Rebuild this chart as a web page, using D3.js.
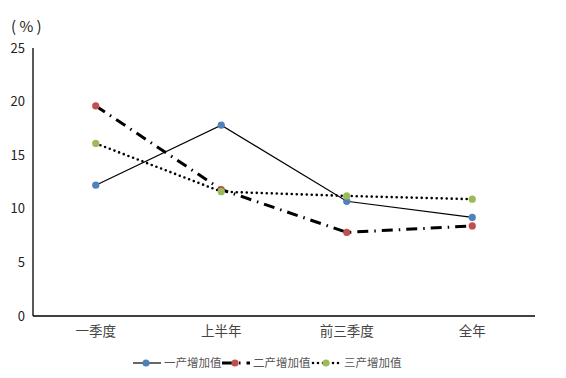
<!DOCTYPE html>
<html>
<head>
<meta charset="utf-8">
<script src="https://cdn.jsdelivr.net/npm/d3@7"></script>
<style>
  body { margin: 0; background: #fff; }
  text { font-family: "Noto Sans CJK SC", "DejaVu Sans", sans-serif; }
</style>
</head>
<body>
<div id="chart"></div>
<script>
const categories = ["一季度", "上半年", "前三季度", "全年"];
const primary = [12.2, 17.8, 10.7, 9.2];
const secondary = [19.6, 11.8, 7.8, 8.4];
const tertiary = [16.1, 11.6, 11.2, 10.9];
const yTicks = [0, 5, 10, 15, 20, 25];

const series = [
  {name: "一产增加值", values: primary, color: "#4f81bd", width: 1.2, dash: null, cap: "butt"},
  {name: "二产增加值", values: secondary, color: "#c0504d", width: 3, dash: "11,6,1.5,6", cap: "butt"},
  {name: "三产增加值", values: tertiary, color: "#9bbb59", width: 2.6, dash: "0,5", cap: "round"}
];

const W = 566, H = 378;
const margin = {top: 48, right: 31, bottom: 62, left: 33};
const width = W - margin.left - margin.right;
const height = H - margin.top - margin.bottom;

const svg = d3.select("#chart").append("svg")
  .attr("width", W)
  .attr("height", H);

const chart = svg.append("g")
  .attr("transform", `translate(${margin.left},${margin.top})`);

const x = d3.scaleBand()
  .domain(categories)
  .range([0, width]);

const y = d3.scaleLinear()
  .domain([0, 25])
  .range([height, 0]);

// axes
chart.append("line")
  .attr("x1", 0).attr("x2", 0)
  .attr("y1", 0).attr("y2", height)
  .attr("stroke", "#000").attr("stroke-width", 1.3);
chart.append("line")
  .attr("x1", 0).attr("x2", width)
  .attr("y1", height).attr("y2", height)
  .attr("stroke", "#000").attr("stroke-width", 1.3);

chart.selectAll(".ytick")
  .data(yTicks)
  .join("text")
  .attr("class", "ytick")
  .attr("x", -8)
  .attr("y", d => y(d))
  .attr("dy", "0.35em")
  .attr("text-anchor", "end")
  .style("font-size", "13px")
  .attr("fill", "#222")
  .text(d => d);

chart.selectAll(".xtick")
  .data(categories)
  .join("text")
  .attr("class", "xtick")
  .attr("x", d => x(d) + x.bandwidth() / 2)
  .attr("y", height + 20)
  .attr("text-anchor", "middle")
  .style("font-size", "13.5px")
  .attr("fill", "#444")
  .text(d => d);

svg.append("text")
  .attr("x", 11)
  .attr("y", 32)
  .style("font-size", "15px")
  .style("white-space", "pre")
  .attr("fill", "#222")
  .text("( % )");

const line = d3.line()
  .x((d, i) => x(categories[i]) + x.bandwidth() / 2)
  .y(d => y(d));

series.forEach(s => {
  chart.append("path")
    .datum(s.values)
    .attr("d", line)
    .attr("fill", "none")
    .attr("stroke", "#000")
    .attr("stroke-width", s.width)
    .attr("stroke-dasharray", s.dash)
    .attr("stroke-linecap", s.cap);
});

series.forEach(s => {
  chart.selectAll(null)
    .data(s.values)
    .join("circle")
    .attr("cx", (d, i) => x(categories[i]) + x.bandwidth() / 2)
    .attr("cy", d => y(d))
    .attr("r", 3.6)
    .attr("fill", s.color);
});

// legend
const legendX = [133, 222, 313];
const legend = svg.append("g").attr("transform", "translate(0,363)");
series.forEach((s, i) => {
  const g = legend.append("g").attr("transform", `translate(${legendX[i]},0)`);
  g.append("line")
    .attr("x1", 0).attr("x2", 28)
    .attr("y1", 0).attr("y2", 0)
    .attr("stroke", "#000")
    .attr("stroke-width", s.width)
    .attr("stroke-dasharray", s.dash)
    .attr("stroke-linecap", s.cap);
  g.append("circle")
    .attr("cx", 13).attr("cy", 0).attr("r", 3.6)
    .attr("fill", s.color);
  g.append("text")
    .attr("x", 31)
    .attr("y", 0)
    .attr("dy", "0.35em")
    .style("font-size", "11.5px")
    .attr("fill", "#555")
    .text(s.name);
});
</script>
</body>
</html>
